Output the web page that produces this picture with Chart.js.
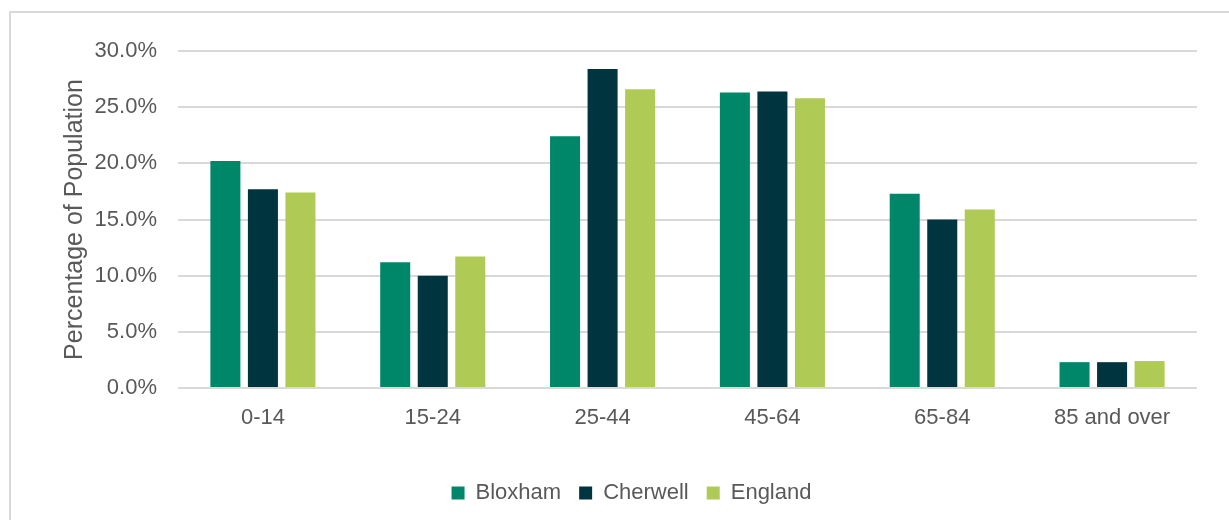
<!DOCTYPE html>
<html>
<head>
<meta charset="utf-8">
<script src="https://cdn.jsdelivr.net/npm/chart.js@4"></script>
<style>
body{margin:0;background:#fff;overflow:hidden;}
#frame{position:absolute;left:9px;top:11px;width:1300px;height:600px;border:2px solid #d9d9d9;}
#wrap{position:absolute;left:0;top:0;width:1229px;height:520px;}
</style>
</head>
<body>
<div id="frame"></div>
<div id="wrap"><canvas id="popChart"></canvas></div>
<script>
const ageBands = ["0-14","15-24","25-44","45-64","65-84","85 and over"];
const bloxham = [20.2,11.2,22.4,26.3,17.3,2.3];
const cherwell = [17.7,10.0,28.4,26.4,15.0,2.3];
const england = [17.4,11.7,26.6,25.8,15.9,2.4];
const yTicks = [0,5,10,15,20,25,30];

const textColor = "#595959";
Chart.defaults.font.family = "'Liberation Sans', Arial, sans-serif";

// legend in the original sits a bit right of centre
const legendShift = {
id:"legendShift",
afterLayout(chart){
chart.legend.left += 33;
chart.legend.right += 33;
}
};

let popChart = new Chart(document.getElementById("popChart"),{
type:"bar",
data:{
labels:ageBands,
datasets:[
{label:"Bloxham",data:bloxham,backgroundColor:"#00876a"},
{label:"Cherwell",data:cherwell,backgroundColor:"#00353f"},
{label:"England",data:england,backgroundColor:"#afcb55"}
]
},
options:{
responsive:true,
maintainAspectRatio:false,
animation:false,
categoryPercentage:0.663,
barPercentage:0.8,
layout:{padding:{top:51,right:32,bottom:6,left:0}},
plugins:{
tooltip:{enabled:false},
legend:{
position:"bottom",
labels:{color:textColor,font:{size:22},boxWidth:13,boxHeight:13,padding:18}
}
},
scales:{
x:{
grid:{display:false,drawTicks:false},
border:{display:false},
ticks:{color:textColor,font:{size:22},padding:17},
afterFit:s=>{s.height=76;}
},
y:{
min:0,max:30,
afterBuildTicks:s=>{s.ticks=yTicks.map(v=>({value:v}));},
grid:{color:"#d9d9d9",lineWidth:2,drawTicks:false},
border:{display:false},
ticks:{color:textColor,font:{size:22},padding:21,callback:v=>v.toFixed(1)+"%"},
title:{display:true,text:"Percentage of Population",color:textColor,font:{size:25},padding:{top:60,bottom:0}},
afterFit:s=>{s.width=178;}
}
}
},
plugins:[legendShift]
});
</script>
</body>
</html>
